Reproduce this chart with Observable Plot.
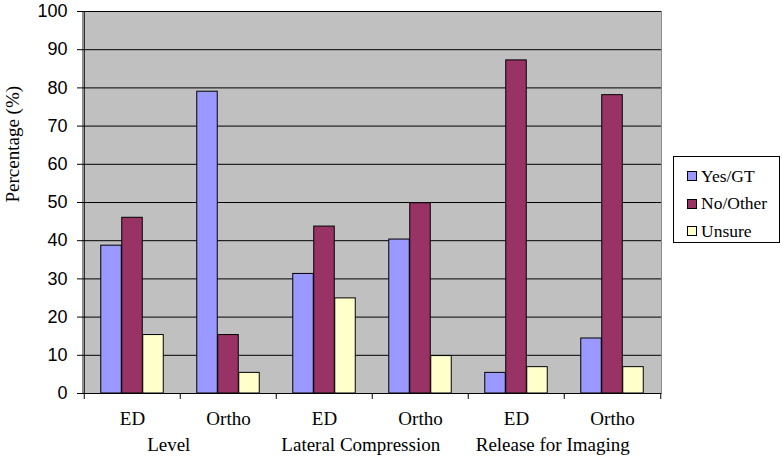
<!DOCTYPE html>
<html><head><meta charset="utf-8">
<script src="https://cdn.jsdelivr.net/npm/d3@7"></script>
<script src="https://cdn.jsdelivr.net/npm/@observablehq/plot@0.6"></script>
<style>
body{margin:0;background:#fff;}
#wrap{position:relative;width:782px;height:457px;overflow:hidden;}
#legend{position:absolute;left:673px;top:156px;width:107px;height:87px;border:1px solid #000;box-sizing:border-box;background:#fff;font-family:"Liberation Serif",serif;font-size:17.5px;color:#000;}
.row{position:absolute;left:13px;display:flex;align-items:center;height:20px;}
.sw{width:8px;height:8px;border:1px solid #000;margin-right:4px;}
</style></head>
<body><div id="wrap"></div>
<script>
const groups = ["Level", "Lateral Compression", "Release for Imaging"];
const roles = ["ED", "Ortho"];
const seriesNames = ["Yes/GT", "No/Other", "Unsure"];
const seriesColors = ["#9999FF", "#993366", "#FFFFCC"];
const yesGT   = [38.7, 79.0, 31.3, 40.3, 5.4, 14.4];
const noOther = [46.0, 15.3, 43.7, 49.8, 87.2, 78.1];
const unsure  = [15.3, 5.4, 24.9, 9.8, 6.9, 6.9];
const yTicks = [0, 10, 20, 30, 40, 50, 60, 70, 80, 90, 100];

const SERIF = "Liberation Serif";
const SANS = "Liberation Sans";

const keys = groups.flatMap(g => roles.map(r => g + "|" + r));
const seriesValues = [yesGT, noOther, unsure];

const W = 782, H = 457, ML = 82, MR = 121, MT = 11, MB = 64;
const step = (W - ML - MR) / keys.length;
const barW = 21;
const inset = (step - barW) / 2;

const barMarks = seriesValues.map((vals, j) =>
  Plot.barY(keys.map((k, i) => ({key: k, value: vals[i]})), {
    x: "key", y: "value", fill: seriesColors[j], stroke: "#000", strokeWidth: 1,
    insetLeft: inset, insetRight: inset, dx: (j - 1) * barW
  })
);

const chart = Plot.plot({
  width: W, height: H,
  marginLeft: ML, marginRight: MR, marginTop: MT, marginBottom: MB,
  x: {domain: keys, padding: 0, axis: null},
  y: {domain: [0, 100], axis: null},
  style: {background: "#fff", overflow: "visible"},
  marks: [
    Plot.frame({fill: "#c0c0c0", stroke: "#8a8a8a"}),
    Plot.gridY(yTicks, {stroke: "#000", strokeOpacity: 1, strokeWidth: 1}),
    ...barMarks,
    Plot.ruleY([0], {stroke: "#000"}),
    Plot.ruleX([keys[0]], {dx: -step / 2, stroke: "#000"}),
    Plot.axisY(yTicks, {tickSize: 5, tickPadding: 10, fontFamily: SANS, fontSize: 18, label: null, stroke: "#000"}),
    Plot.axisX(keys, {tickSize: 6, tickFormat: () => "", dx: -step / 2, label: null}),
    Plot.axisX([keys[keys.length - 1]], {tickSize: 6, tickFormat: () => "", dx: step / 2, label: null}),
    Plot.axisX(keys, {tickSize: 0, tickPadding: 18, tickFormat: k => k.split("|")[1], fontFamily: SERIF, fontSize: 19, label: null}),
    Plot.text(groups, {x: g => g + "|" + roles[0], dx: step / 2 - 12, frameAnchor: "bottom", dy: 57, text: d => d, fontFamily: SERIF, fontSize: 19, fill: "#000"}),
    Plot.text(["Percentage (%)"], {frameAnchor: "left", rotate: -90, dx: -70, text: d => d, fontFamily: SERIF, fontSize: 19, fill: "#000"})
  ]
});

const wrap = document.getElementById("wrap");
wrap.appendChild(chart);
const legend = document.createElement("div");
legend.id = "legend";
seriesNames.forEach((name, j) => {
  const row = document.createElement("div");
  row.className = "row";
  row.style.top = (9 + j * 27.5) + "px";
  const sw = document.createElement("div");
  sw.className = "sw";
  sw.style.background = seriesColors[j];
  const t = document.createElement("span");
  t.textContent = name;
  row.appendChild(sw); row.appendChild(t);
  legend.appendChild(row);
});
wrap.appendChild(legend);
</script>
</body></html>
